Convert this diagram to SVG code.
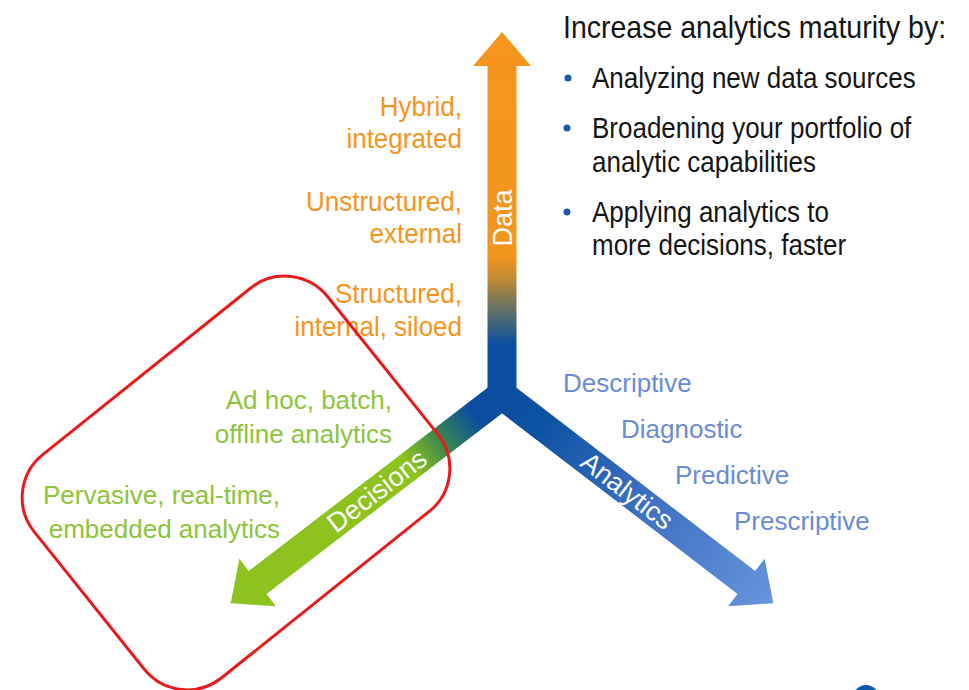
<svg xmlns="http://www.w3.org/2000/svg" width="969" height="690" viewBox="0 0 969 690">
<defs>
<style>
text{font-family:"Liberation Sans",Arial,sans-serif;}
.lbl{font-size:26px;}
.org{fill:#F7941D;text-anchor:end;}
.grn{fill:#8DC43A;text-anchor:end;}
.blu{fill:#6B8BD5;}
.blk{fill:#151515;}
.arm{font-size:27px;fill:#ffffff;text-anchor:middle;dominant-baseline:central;}
.dot{fill:#1E5AA8;}
</style>
<linearGradient id="gData" gradientUnits="userSpaceOnUse" x1="0" y1="0" x2="363" y2="0">
<stop offset="0" stop-color="#0B4E9F"/>
<stop offset="0.14" stop-color="#0B4E9F"/>
<stop offset="0.19" stop-color="#3A6280"/>
<stop offset="0.26" stop-color="#7C7858"/>
<stop offset="0.32" stop-color="#C28A35"/>
<stop offset="0.38" stop-color="#F0961F"/>
<stop offset="1" stop-color="#F7951D"/>
</linearGradient>
<linearGradient id="gDec" gradientUnits="userSpaceOnUse" x1="0" y1="0" x2="342" y2="0">
<stop offset="0" stop-color="#0B4E9F"/>
<stop offset="0.1" stop-color="#0B4E9F"/>
<stop offset="0.22" stop-color="#3A8650"/>
<stop offset="0.34" stop-color="#8DC21F"/>
<stop offset="1" stop-color="#8DC31E"/>
</linearGradient>
<linearGradient id="gAna" gradientUnits="userSpaceOnUse" x1="0" y1="0" x2="342" y2="0">
<stop offset="0" stop-color="#0B4E9F"/>
<stop offset="0.15" stop-color="#0E52A3"/>
<stop offset="0.5" stop-color="#3C6EC0"/>
<stop offset="1" stop-color="#6694DB"/>
</linearGradient>
</defs>

<g id="connectors">
<polygon id="arm-analytics" fill="url(#gAna)" transform="translate(502,395) rotate(37.5)" points="-15,-14.5 308,-14.5 308,-30 342,0 308,30 308,14.5 -15,14.5"/>
<polygon id="arm-decisions" fill="url(#gDec)" transform="translate(502,395) rotate(142.5)" points="-15,-14.5 308,-14.5 308,-30 342,0 308,30 308,14.5 -15,14.5"/>
<polygon id="arm-data" fill="url(#gData)" transform="translate(502,395) rotate(-90)" points="-10,-14.5 329,-14.5 329,-29 363,0 329,29 329,14.5 -10,14.5"/>
</g>

<g id="axis-labels">
<text class="arm" transform="translate(503,218) rotate(-90)">Data</text>
<text class="arm" transform="translate(377,491) rotate(-37.5)">Decisions</text>
<text class="arm" transform="translate(627,491) rotate(37.5)">Analytics</text>
</g>

<g id="data-levels">
<text class="lbl org" transform="translate(462,116) scale(1,1.05)">Hybrid,</text>
<text class="lbl org" transform="translate(462,148) scale(1,1.05)">integrated</text>
<text class="lbl org" transform="translate(462,211) scale(1,1.05)">Unstructured,</text>
<text class="lbl org" transform="translate(462,243) scale(1,1.05)">external</text>
<text class="lbl org" transform="translate(462,303) scale(1,1.05)">Structured,</text>
<text class="lbl org" transform="translate(462,336) scale(1,1.05)">internal, siloed</text>
</g>

<g id="decision-levels">
<text class="lbl grn" x="392" y="409">Ad hoc, batch,</text>
<text class="lbl grn" x="392" y="443">offline analytics</text>
<text class="lbl grn" x="280" y="504">Pervasive, real-time,</text>
<text class="lbl grn" x="280" y="538">embedded analytics</text>
</g>

<g id="analytics-levels">
<text class="lbl blu" x="563" y="392">Descriptive</text>
<text class="lbl blu" x="621" y="438">Diagnostic</text>
<text class="lbl blu" x="675" y="484">Predictive</text>
<text class="lbl blu" x="734" y="530">Prescriptive</text>
</g>

<g id="maturity-list">
<text class="blk" transform="translate(563,38) scale(1,1.1)" style="font-size:28.5px">Increase analytics maturity by:</text>
<circle class="dot" cx="568" cy="78" r="3.5"/>
<text class="lbl blk" transform="translate(592,88) scale(1,1.12)">Analyzing new data sources</text>
<circle class="dot" cx="567" cy="128" r="3.5"/>
<text class="lbl blk" transform="translate(592,138) scale(1,1.12)">Broadening your portfolio of</text>
<text class="lbl blk" transform="translate(592,172) scale(1,1.12)">analytic capabilities</text>
<circle class="dot" cx="567" cy="212" r="3.5"/>
<text class="lbl blk" transform="translate(592,222) scale(1,1.12)">Applying analytics to</text>
<text class="lbl blk" transform="translate(592,255) scale(1,1.12)">more decisions, faster</text>
</g>

<g id="highlight">
<rect x="-188" y="-143" width="376" height="286" rx="55" ry="55" fill="none" stroke="#EA1A1A" stroke-width="3" transform="translate(236,483) rotate(-38.7)"/>
</g>

<g id="logo-fragment">
<circle cx="866" cy="698" r="13" fill="#0E5AA7"/>
</g>
</svg>
